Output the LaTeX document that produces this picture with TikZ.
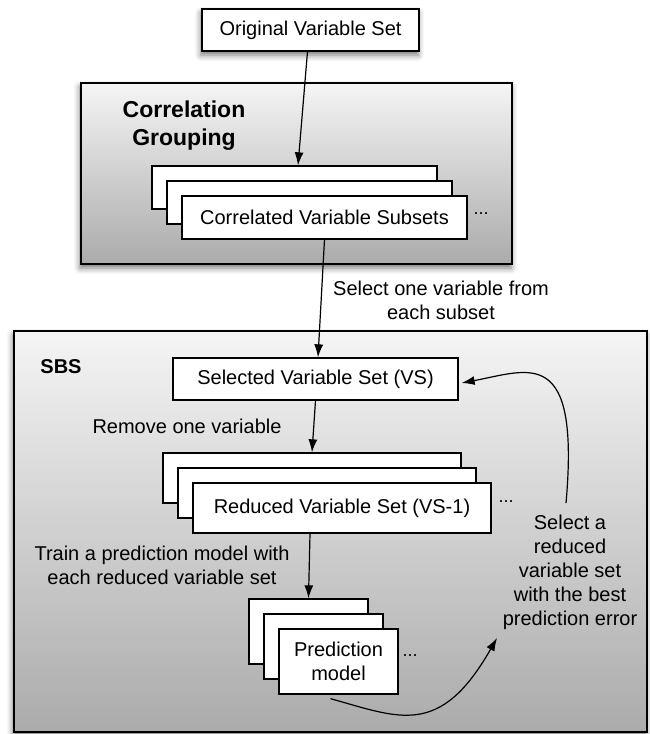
\documentclass[tikz,border=0pt]{standalone}
\usepackage{fontspec}
\setmainfont{Liberation Sans}
\usetikzlibrary{arrows.meta,calc,positioning,shadows.blur}

\tikzset{
  shade/.style={blur shadow={shadow xshift=-1pt,shadow yshift=-4pt,shadow blur radius=6pt,shadow opacity=55}},
  box/.style={draw,fill=white,line width=1.3pt,inner sep=0pt,align=center,font=\fontsize{20}{24}\selectfont},
  panel/.style={draw,line width=1.3pt,inner sep=0pt,top color=black!4,bottom color=black!33,shade},
  lbl/.style={align=center,font=\fontsize{20}{24}\selectfont},
  dots/.style={inner sep=1pt,font=\fontsize{18}{18}\selectfont},
  arr/.style={-{Latex[length=13pt,width=9pt]},line width=1.2pt}
}

\begin{document}
\begin{tikzpicture}[x=1pt,y=1pt]
\useasboundingbox (0,0) rectangle (650,-734);

\def\dd{15}

% draw the panels
\node[panel,minimum width=431pt,minimum height=181pt] (cgPanel) at (296.5,-173.5) {};
\node[panel,minimum width=633pt,minimum height=401pt] (sbsPanel) at (330.5,-531.5) {};
\node[lbl,font=\fontsize{23}{28}\selectfont\bfseries] (cgTitle) at (184,-126) {Correlation\\Grouping};
\node[lbl,font=\fontsize{20}{24}\selectfont\bfseries] (sbsTitle) at (61,-367) {SBS};

% the top box
\node[box,shade,minimum width=217pt,minimum height=42pt] (orig) at (310.5,-30) {Original Variable Set};

% draw the stacks (back boxes first)
\foreach \i in {2,1}
{
\node[box,minimum width=285pt,minimum height=43pt] (corr\i) at ({324.5-\i*\dd},{-217.5+\i*\dd}) {};
\node[box,minimum width=298pt,minimum height=50pt] (red\i) at ({342-\i*\dd},{-508+\i*\dd}) {};
\node[box,minimum width=119pt,minimum height=65pt] (pred\i) at ({338.5-\i*\dd},{-661.5+\i*\dd}) {};
}
\node[box,minimum width=285pt,minimum height=43pt] (corr0) at (324.5,-217.5) {Correlated Variable Subsets};
\node[box,minimum width=298pt,minimum height=50pt] (red0) at (342,-508) {Reduced Variable Set (VS-1)};
\node[box,minimum width=119pt,minimum height=65pt] (pred0) at (338.5,-661.5) {Prediction\\model};
\node[dots] (corrDots) at (481,-214) {...};
\node[dots] (redDots) at (506,-502) {...};
\node[dots] (predDots) at (410,-656) {...};

\node[box,minimum width=285pt,minimum height=42pt] (vs) at (315.5,-379) {Selected Variable Set (VS)};

% the labels
\node[lbl] (selOne) at (441,-300) {Select one variable from\\each subset};
\node[lbl] (remove) at (187,-426) {Remove one variable};
\node[lbl] (train) at (162,-565) {Train a prediction model with\\each reduced variable set};
\node[lbl] (best) at (570,-572) {Select a\\reduced\\variable set\\with the best\\prediction error};
\coordinate (bestTip) at (497,-638);

% draw the arrows
\draw[arr] ([xshift=-3pt]orig.south) -- ([xshift=3.5pt]corr2.north);
\draw[arr] (corr0.south) -- ([xshift=2.5pt]vs.north);
\draw[arr] (vs.south) -- (red2.north);
\draw[arr] ([xshift=-32pt]red0.south) -- (pred2.north);
\draw[arr] ([xshift=-8pt,yshift=-4pt]pred0.south) .. controls (400,-718) and (440,-738) .. (bestTip);
\draw[arr] ([xshift=-4pt,yshift=8pt]best.north) .. controls (580,-345) and (530,-370) .. ([xshift=3pt,yshift=-4pt]vs.east);

\end{tikzpicture}
\end{document}
